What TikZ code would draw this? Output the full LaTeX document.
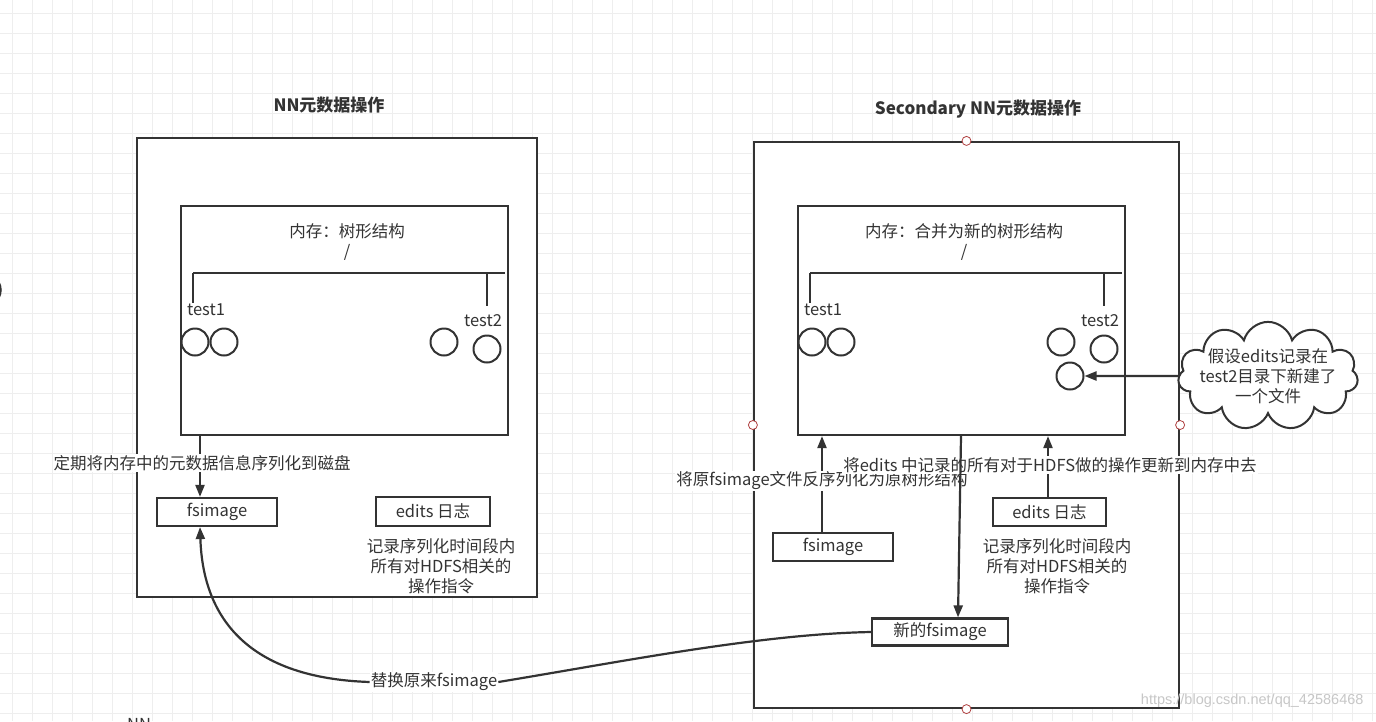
\documentclass[tikz,border=0pt]{standalone}
\usepackage{fontspec}
\setmainfont{Noto Sans CJK SC}
\newfontfamily\wmfont{Liberation Sans}
\usetikzlibrary{arrows.meta,shapes.symbols}

\definecolor{ink}{HTML}{333333}
\definecolor{gridgray}{HTML}{EEEEEE}
\definecolor{handle}{HTML}{B04040}
\newcommand\dgfont{\fontsize{16.5}{20}\selectfont}

\tikzset{
  box/.style={draw=ink, line width=2.2pt, fill=white, inner sep=0pt},
  smallbox/.style={box, text=ink},
  leaf/.style={circle, draw=ink, line width=2pt, minimum size=27pt, inner sep=0pt},
  tree/.style={draw=ink, line width=2.4pt},
  conn/.style={draw=ink, line width=2.2pt, -{Triangle[length=12pt,width=9pt]}},
  lbl/.style={fill=white, text=ink, inner sep=1pt},
  title/.style={text=ink, font=\fontsize{17}{20}\selectfont\bfseries},
  gridline/.style={draw=gridgray, line width=1pt},
  hdl/.style={circle, draw=handle, fill=white, line width=0.8pt, minimum size=9pt, inner sep=0pt}
}

\begin{document}
\begin{tikzpicture}[x=1pt, y=-1pt, font=\dgfont, text=ink]

\useasboundingbox (0,0) rectangle (1376,721);
\fill[white] (0,0) rectangle (1376,721);
\foreach \gx in {12,32,...,1372} \draw[gridline] (\gx,0) -- (\gx,721);
\foreach \gy in {13,33,...,713} \draw[gridline] (0,\gy) -- (1376,\gy);

\draw[ink, line width=1.5pt] (-30,290) ellipse (31 and 22);
\node[text=ink] (nncut) at (139,724) {NN};

\node[title] (t1) at (329,105) {NN元数据操作};
\node[title] (t2) at (978,109) {Secondary NN元数据操作};

\node[box, minimum width=400, minimum height=459] (nn) at (337,367.5) {};
\node[box, minimum width=425, minimum height=566] (snn) at (966.5,425) {};

\foreach \dx/\p in {0/a,617/b} {
  \begin{scope}[xshift=\dx]
    \node[box, minimum width=327, minimum height=229] (mem\p) at (344.5,320.5) {};
    \draw[tree] (193,273) -- (505,273);
    \draw[tree] (193,273) -- (193,303);
    \draw[tree] (487,273) -- (487,306);
    \node (slash\p) at (347,252) {/};
    \node (ta\p) at (206,310) {test1};
    \node (tb\p) at (483,321) {test2};
    \node[leaf] (la\p) at (195,342) {};
    \node[leaf] (lb\p) at (224,342) {};
    \node[leaf] (lc\p) at (444,342) {};
    \node[leaf] (ld\p) at (487,349) {};
  \end{scope}
}
\node (capa) at (347,231) {内存：树形结构};
\node (capb) at (964,231) {内存：合并为新的树形结构};
\node[leaf] (new) at (1070,376) {};

\node[smallbox, minimum width=120, minimum height=28] (fsa) at (217,512) {fsimage};
\node[smallbox, minimum width=114, minimum height=29] (eda) at (433,511.5) {edits 日志};
\node[align=center] (nota) at (441,566) {记录序列化时间段内\\所有对HDFS相关的\\操作指令};

\node[smallbox, minimum width=120, minimum height=28] (fsb) at (833,547) {fsimage};
\node[smallbox, minimum width=113, minimum height=28] (edb) at (1049.5,512) {edits 日志};
\node[align=center] (notb) at (1057,566) {记录序列化时间段内\\所有对HDFS相关的\\操作指令};
\node[smallbox, minimum width=136, minimum height=27] (newfs) at (940,632) {新的fsimage};

\node[cloud, draw=ink, fill=white, line width=2pt, cloud puffs=11, aspect=2.3,
  inner xsep=-8pt, inner ysep=-16pt, align=center] (cl) at (1268,376) {假设edits记录在\\test2目录下新建了\\一个文件};

\draw[conn] ([xshift=-144.5]mema.south) -- ([xshift=-144.5]mema.south |- fsa.north);
\draw[conn] (cl.west) -- (new.east);
\draw[conn] ([xshift=-11]fsb.north) -- ([xshift=-11]fsb.north |- memb.south);
\draw[conn] ([xshift=-1.5]edb.north) -- ([xshift=-1.5]edb.north |- memb.south);

\node[lbl] (sera) at (202,463) {定期将内存中的元数据信息序列化到磁盘};
\node[lbl] (desb) at (822,481) {将原fsimage文件反序列化为原树形结构};
\node[lbl] (updb) at (1050,465) {将edits 中记录的所有对于HDFS做的操作更新到内存中去};

\draw[conn] ([xshift=-0.5]memb.south) -- ([xshift=18]newfs.north);

\node[lbl] (swap) at (434,682) {替换原来fsimage};
\draw[conn] (newfs.west) .. controls (760,634) and (620,662) .. (swap.east)
  (swap.west) .. controls (250,678) and (203,620) .. ([xshift=-17]fsa.south);

\node[hdl] (h1) at (snn.north) {};
\node[hdl] (h2) at (snn.west) {};
\node[hdl] (h3) at (snn.east) {};
\node[hdl] (h4) at (snn.south) {};

\node[text=black!22, font=\wmfont\fontsize{14.5}{16}\selectfont, anchor=east] (wm) at (1367,701) {https://blog.csdn.net/qq\_42586468};

\end{tikzpicture}
\end{document}
